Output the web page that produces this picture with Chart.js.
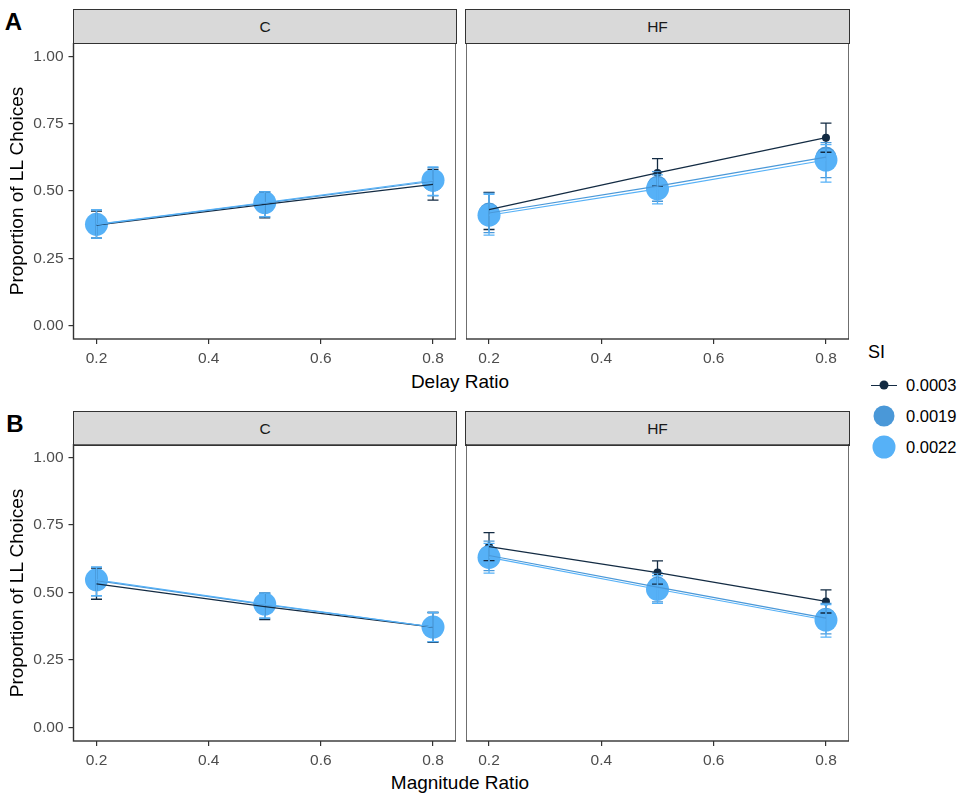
<!DOCTYPE html>
<html>
<head>
<meta charset="utf-8">
<script src="https://cdn.jsdelivr.net/npm/chart.js@4.4.0/dist/chart.umd.min.js"></script>
<style>
  body { margin: 0; background: #fff; font-family: "Liberation Sans", Arial, sans-serif; }
  #page { position: relative; width: 968px; height: 800px; overflow: hidden; }
  .box { position: absolute; }
  .strip { position: absolute; box-sizing: border-box; background: #D9D9D9; border: 1.3px solid #333;
           color: #1A1A1A; font-size: 15.5px; display: flex; align-items: center; justify-content: center; }
  .xtitle { position: absolute; font-size: 19px; color: #000; transform: translate(-50%, -50%); white-space: nowrap; }
  .ytitle { position: absolute; font-size: 19px; color: #000; transform: translate(-50%, -50%) rotate(-90deg); white-space: nowrap; }
  .tag { position: absolute; font-size: 24px; font-weight: bold; transform: translate(-50%, -50%); }
  .leg { position: absolute; font-size: 16.5px; color: #000; transform: translateY(-50%); }
  .dot { position: absolute; border-radius: 50%; transform: translate(-50%, -50%); }
</style>
</head>
<body>
<div id="page">
  <div class="tag" style="left:13.5px; top:22px;">A</div>
  <div class="tag" style="left:15px; top:423.5px;">B</div>

  <div class="strip" style="left:73px; top:9px; width:384px; height:35px;">C</div>
  <div class="strip" style="left:465px; top:9px; width:385px; height:35px;">HF</div>
  <div class="strip" style="left:73px; top:411px; width:384px; height:35px;">C</div>
  <div class="strip" style="left:465px; top:411px; width:385px; height:35px;">HF</div>

  <div class="box" style="left:20px; top:43px;"><canvas id="aC" width="436" height="326"></canvas></div>
  <div class="box" style="left:466px; top:43px;"><canvas id="aHF" width="383" height="326"></canvas></div>
  <div class="box" style="left:20px; top:444px;"><canvas id="bC" width="436" height="327"></canvas></div>
  <div class="box" style="left:466px; top:444px;"><canvas id="bHF" width="383" height="327"></canvas></div>

  <div class="ytitle" style="left:17px; top:191px;">Proportion of LL Choices</div>
  <div class="ytitle" style="left:17px; top:593px;">Proportion of LL Choices</div>
  <div class="xtitle" style="left:460px; top:382px;">Delay Ratio</div>
  <div class="xtitle" style="left:460px; top:783px;">Magnitude Ratio</div>

  <!-- leyenda -->
  <div class="leg" style="left:868px; top:352px; font-size:18px;">SI</div>
  <div style="position:absolute; left:871px; top:384.5px; width:26px; height:1.3px; background:#132B43;"></div>
  <div class="dot" style="left:884px; top:385px; width:9px; height:9px; background:#132B43;"></div>
  <div class="dot" style="left:884px; top:416px; width:21px; height:21px; background:#4A98D8;"></div>
  <div class="dot" style="left:884px; top:447px; width:23px; height:23px; background:#56B1F7;"></div>
  <div class="leg" style="left:906px; top:385px;">0.0003</div>
  <div class="leg" style="left:906px; top:416px;">0.0019</div>
  <div class="leg" style="left:906px; top:447px;">0.0022</div>
</div>

<script>
// Valores del eje x y etiquetas
var xVals = [0.2, 0.5, 0.8];
var xTicks = [0.2, 0.4, 0.6, 0.8];
var yTicks = [0, 0.25, 0.5, 0.75, 1];
var siLabels = ["0.0003", "0.0019", "0.0022"];

// A - Delay Ratio, grupo C
var delayC_mean_0003 = [0.373, 0.450, 0.525];
var delayC_lo_0003   = [0.325, 0.400, 0.466];
var delayC_hi_0003   = [0.425, 0.497, 0.580];
var delayC_mean_0019 = [0.375, 0.455, 0.536];
var delayC_lo_0019   = [0.325, 0.404, 0.482];
var delayC_hi_0019   = [0.430, 0.497, 0.587];
var delayC_mean_0022 = [0.376, 0.457, 0.540];
var delayC_lo_0022   = [0.325, 0.405, 0.484];
var delayC_hi_0022   = [0.430, 0.497, 0.590];

// A - Delay Ratio, grupo HF
var delayHF_mean_0003 = [0.431, 0.567, 0.698];
var delayHF_lo_0003   = [0.357, 0.518, 0.644];
var delayHF_hi_0003   = [0.495, 0.620, 0.752];
var delayHF_mean_0019 = [0.418, 0.518, 0.626];
var delayHF_lo_0019   = [0.345, 0.462, 0.550];
var delayHF_hi_0019   = [0.492, 0.572, 0.680];
var delayHF_mean_0022 = [0.410, 0.508, 0.615];
var delayHF_lo_0022   = [0.336, 0.452, 0.533];
var delayHF_hi_0022   = [0.488, 0.560, 0.672];

// B - Magnitude Ratio, grupo C
var magC_mean_0003 = [0.532, 0.448, 0.372];
var magC_lo_0003   = [0.475, 0.400, 0.315];
var magC_hi_0003   = [0.590, 0.498, 0.426];
var magC_mean_0019 = [0.544, 0.455, 0.372];
var magC_lo_0019   = [0.488, 0.405, 0.318];
var magC_hi_0019   = [0.594, 0.498, 0.426];
var magC_mean_0022 = [0.547, 0.457, 0.372];
var magC_lo_0022   = [0.488, 0.405, 0.318];
var magC_hi_0022   = [0.594, 0.498, 0.426];

// B - Magnitude Ratio, grupo HF
var magHF_mean_0003 = [0.670, 0.574, 0.467];
var magHF_lo_0003   = [0.618, 0.531, 0.424];
var magHF_hi_0003   = [0.722, 0.617, 0.510];
var magHF_mean_0019 = [0.637, 0.520, 0.405];
var magHF_lo_0019   = [0.581, 0.465, 0.347];
var magHF_hi_0019   = [0.690, 0.572, 0.460];
var magHF_mean_0022 = [0.630, 0.512, 0.398];
var magHF_lo_0022   = [0.572, 0.460, 0.335];
var magHF_hi_0022   = [0.682, 0.562, 0.455];

var colores = ["#132B43", "#4A98D8", "#56B1F7"];
var radios = [4, 10.5, 11.5];
var fuente = "'Liberation Sans', Arial, sans-serif";

// Barras de error, dibujadas sobre los puntos y debajo de las líneas
var errorBars = {
    id: "errorBars",
    beforeDatasetDraw: function (chart, args) {
        var ds = chart.data.datasets[args.index];
        if (!ds.dibujarErrores) return;
        var ctx = chart.ctx, sx = chart.scales.x, sy = chart.scales.y;
        ctx.save();
        ctx.lineWidth = 1.3;
        chart.data.datasets.forEach(function (d) {
            if (!d.errLo) return;
            ctx.strokeStyle = d.pointBackgroundColor;
            d.data.forEach(function (p, i) {
                var px = sx.getPixelForValue(p.x);
                var y1 = sy.getPixelForValue(d.errLo[i]);
                var y2 = sy.getPixelForValue(d.errHi[i]);
                ctx.beginPath();
                ctx.moveTo(px, y1); ctx.lineTo(px, y2);
                ctx.moveTo(px - 5.5, y1); ctx.lineTo(px + 5.5, y1);
                ctx.moveTo(px - 5.5, y2); ctx.lineTo(px + 5.5, y2);
                ctx.stroke();
            });
        });
        ctx.restore();
    }
};

// Borde del panel
var bordePanel = {
    id: "bordePanel",
    afterDraw: function (chart) {
        var a = chart.chartArea, ctx = chart.ctx;
        ctx.save();
        ctx.strokeStyle = "#333333";
        ctx.lineWidth = 1.4;
        ctx.strokeRect(a.left, a.top, a.right - a.left, a.bottom - a.top);
        ctx.restore();
    }
};

function panel(id, medias, bajos, altos, mostrarY) {
    var datasets = [];
    // puntos primero (order alto = se dibuja abajo)
    for (var s = 0; s < 3; s++) {
        datasets.push({
            label: siLabels[s],
            data: xVals.map(function (x, i) { return { x: x, y: medias[s][i] }; }),
            showLine: false,
            pointRadius: radios[s],
            pointBackgroundColor: colores[s],
            pointBorderWidth: 0,
            errLo: bajos[s],
            errHi: altos[s],
            order: 5 - s
        });
    }
    // líneas encima
    for (var s = 0; s < 3; s++) {
        datasets.push({
            label: siLabels[s] + " linea",
            data: xVals.map(function (x, i) { return { x: x, y: medias[s][i] }; }),
            showLine: true,
            borderColor: colores[s],
            borderWidth: s == 0 ? 1.3 : 1.1,
            pointRadius: 0,
            dibujarErrores: s == 0,
            order: 2 - s
        });
    }

    var configuracion = {
        type: "scatter",
        data: { datasets: datasets },
        options: {
            responsive: false,
            animation: false,
            layout: { padding: 0, autoPadding: false },
            plugins: { legend: { display: false }, tooltip: { enabled: false } },
            scales: {
                x: {
                    type: "linear", min: 0.159, max: 0.841,
                    afterBuildTicks: function (a) { a.ticks = xTicks.map(function (v) { return { value: v }; }); },
                    afterFit: function (a) { a.height = 30; a.paddingLeft = 0; a.paddingRight = 0; },
                    ticks: { callback: function (v) { return v.toFixed(1); }, color: "#4D4D4D",
                             font: { size: 15.5, family: fuente }, padding: 5, maxRotation: 0, autoSkip: false },
                    grid: { drawOnChartArea: false, tickLength: 5, color: "#333333", lineWidth: 1.2 },
                    border: { display: false }
                },
                y: {
                    type: "linear", min: -0.05, max: 1.05,
                    display: mostrarY,
                    afterBuildTicks: function (a) { a.ticks = yTicks.map(function (v) { return { value: v }; }); },
                    afterFit: function (a) { a.width = mostrarY ? 53.5 : 0; a.paddingTop = 0; a.paddingBottom = 0; },
                    ticks: { callback: function (v) { return v.toFixed(2); }, color: "#4D4D4D",
                             font: { size: 15.5, family: fuente }, padding: 5 },
                    grid: { drawOnChartArea: false, tickLength: 5, color: "#333333", lineWidth: 1.2 },
                    border: { display: false }
                }
            }
        },
        plugins: [errorBars, bordePanel]
    };
    return new Chart(document.getElementById(id).getContext("2d"), configuracion);
}

panel("aC",
    [delayC_mean_0003, delayC_mean_0019, delayC_mean_0022],
    [delayC_lo_0003, delayC_lo_0019, delayC_lo_0022],
    [delayC_hi_0003, delayC_hi_0019, delayC_hi_0022], true);
panel("aHF",
    [delayHF_mean_0003, delayHF_mean_0019, delayHF_mean_0022],
    [delayHF_lo_0003, delayHF_lo_0019, delayHF_lo_0022],
    [delayHF_hi_0003, delayHF_hi_0019, delayHF_hi_0022], false);
panel("bC",
    [magC_mean_0003, magC_mean_0019, magC_mean_0022],
    [magC_lo_0003, magC_lo_0019, magC_lo_0022],
    [magC_hi_0003, magC_hi_0019, magC_hi_0022], true);
panel("bHF",
    [magHF_mean_0003, magHF_mean_0019, magHF_mean_0022],
    [magHF_lo_0003, magHF_lo_0019, magHF_lo_0022],
    [magHF_hi_0003, magHF_hi_0019, magHF_hi_0022], false);
</script>
</body>
</html>
